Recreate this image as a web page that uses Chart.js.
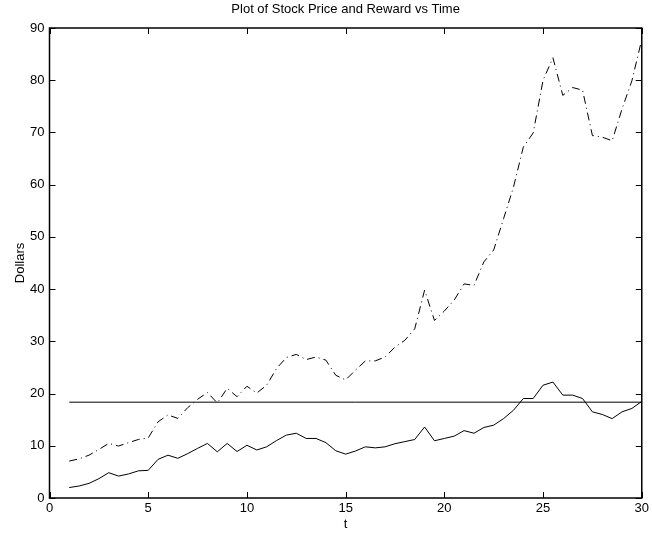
<!DOCTYPE html>
<html>
<head>
<meta charset="utf-8">
<title>Plot of Stock Price and Reward vs Time</title>
<script src="https://cdn.jsdelivr.net/npm/chart.js@4.4.1/dist/chart.umd.min.js"></script>
<style>
  html, body { margin: 0; padding: 0; background: #fff; }
  #wrap { width: 652px; height: 535px; }
</style>
</head>
<body>
<div id="wrap"><canvas id="myChart" width="652" height="535"></canvas></div>
<script>
'use strict';

let times = [1, 1.5, 2, 2.5, 3, 3.5, 4, 4.5, 5, 5.5, 6, 6.5, 7, 7.5, 8, 8.5, 9, 9.5, 10, 10.5,
  11, 11.5, 12, 12.5, 13, 13.5, 14, 14.5, 15, 15.5, 16, 16.5, 17, 17.5, 18, 18.5, 19, 19.5, 20, 20.5,
  21, 21.5, 22, 22.5, 23, 23.5, 24, 24.5, 25, 25.5, 26, 26.5, 27, 27.5, 28, 28.5, 29, 29.5, 30];

// dash-dot curve
let stockPrice = [7.07, 7.5, 8.2, 9.3, 10.45, 9.95, 10.6, 11.2, 11.5, 14.6, 15.9, 15.25, 17.3, 18.9, 20.2, 18.2, 21.0, 19.4, 21.4, 20.1,
  21.6, 24.8, 26.9, 27.5, 26.5, 27.0, 26.4, 23.5, 22.6, 24.5, 26.25, 26.25, 27.0, 28.9, 30.2, 32.4, 39.8, 34.0, 35.8, 37.9,
  41.0, 40.7, 45.2, 47.5, 53.5, 59.5, 67.2, 69.9, 80.0, 84.3, 77.1, 78.6, 78.1, 69.4, 69.1, 68.4, 74.5, 79.9, 87.8];

// solid curve
let reward = [2.0, 2.3, 2.8, 3.7, 4.85, 4.2, 4.6, 5.2, 5.3, 7.4, 8.2, 7.6, 8.5, 9.5, 10.45, 8.85, 10.45, 8.9, 10.1, 9.2,
  9.8, 11.0, 12.05, 12.4, 11.4, 11.4, 10.6, 9.05, 8.4, 9.0, 9.8, 9.6, 9.8, 10.4, 10.8, 11.2, 13.6, 10.96, 11.4, 11.85,
  12.9, 12.4, 13.5, 13.95, 15.2, 16.8, 19.05, 19.05, 21.6, 22.2, 19.7, 19.7, 19.05, 16.5, 16.0, 15.2, 16.5, 17.15, 18.5];

// flat level drawn from first to last time
let level = 18.35;

let xTicks = [0, 5, 10, 15, 20, 25, 30];
let yTicks = [0, 10, 20, 30, 40, 50, 60, 70, 80, 90];

function toPoints(xs, ys) {
  let out = [];
  for (let i = 0; i < xs.length; i++) {
    out.push({ x: xs[i], y: ys[i] });
  }
  return out;
}

let fontFamily = '"Liberation Sans", Arial, Helvetica, sans-serif';
let fontSize = 13;

// box round the plot area with short ticks pointing inward on all four sides
let boxPlugin = {
  id: 'boxPlugin',
  afterDraw(chart) {
    let ctx = chart.ctx;
    let a = chart.chartArea;
    let xs = chart.scales.x;
    let ys = chart.scales.y;
    let len = 6;
    ctx.save();
    ctx.strokeStyle = '#000';
    ctx.lineWidth = 1;
    ctx.beginPath();
    for (let i = 0; i < xTicks.length; i++) {
      let px = Math.round(xs.getPixelForValue(xTicks[i])) + 0.5;
      ctx.moveTo(px, a.bottom);
      ctx.lineTo(px, a.bottom - len);
      ctx.moveTo(px, a.top);
      ctx.lineTo(px, a.top + len);
    }
    for (let i = 0; i < yTicks.length; i++) {
      let py = Math.round(ys.getPixelForValue(yTicks[i])) + 0.5;
      ctx.moveTo(a.left, py);
      ctx.lineTo(a.left + len, py);
      ctx.moveTo(a.right, py);
      ctx.lineTo(a.right - len, py);
    }
    ctx.stroke();
    ctx.lineWidth = 1.5;
    ctx.strokeRect(a.left, a.top, a.right - a.left, a.bottom - a.top);
    ctx.restore();
  }
};

let ctx = document.getElementById('myChart').getContext('2d');
let myChart = new Chart(ctx, {
  type: 'line',
  data: {
    datasets: [
      {
        label: 'Stock Price',
        data: toPoints(times, stockPrice),
        borderColor: '#000',
        borderWidth: 1,
        borderDash: [8, 4, 1, 4],
        pointRadius: 0,
        tension: 0
      },
      {
        label: 'Reward',
        data: toPoints(times, reward),
        borderColor: '#000',
        borderWidth: 1,
        pointRadius: 0,
        tension: 0
      },
      {
        label: 'Level',
        data: [{ x: times[0], y: level }, { x: times[times.length - 1], y: level }],
        borderColor: '#000',
        borderWidth: 1,
        pointRadius: 0
      }
    ]
  },
  options: {
    responsive: false,
    animation: false,
    layout: { padding: { left: 0, right: 8, top: 0, bottom: 0 } },
    plugins: {
      legend: { display: false },
      tooltip: { enabled: false },
      title: { display: false }
    },
    scales: {
      x: {
        type: 'linear',
        position: 'bottom',
        min: 0,
        max: 30,
        afterBuildTicks: function (scale) {
          scale.ticks = xTicks.map(v => ({ value: v }));
        },
        afterFit: function (scale) { scale.height = 37; },
        grid: { display: false, drawTicks: false },
        border: { display: false },
        ticks: { color: '#000', padding: 3, maxRotation: 0, font: { family: fontFamily, size: fontSize } },
        title: { display: true, text: 't', color: '#000', padding: { top: 0, bottom: 3 }, font: { family: fontFamily, size: fontSize } }
      },
      top: {
        type: 'linear',
        position: 'top',
        min: 0,
        max: 30,
        afterFit: function (scale) { scale.height = 28; },
        grid: { display: false, drawTicks: false },
        border: { display: false },
        ticks: { display: false },
        title: { display: true, text: 'Plot of Stock Price and Reward vs Time', color: '#000', padding: { top: 2, bottom: 0 }, font: { family: fontFamily, size: fontSize } }
      },
      y: {
        type: 'linear',
        position: 'left',
        min: 0,
        max: 90,
        afterBuildTicks: function (scale) {
          scale.ticks = yTicks.map(v => ({ value: v }));
        },
        afterFit: function (scale) { scale.width = 49.5; },
        grid: { display: false, drawTicks: false },
        border: { display: false },
        ticks: { color: '#000', padding: 5, font: { family: fontFamily, size: fontSize } },
        title: { display: true, text: 'Dollars', color: '#000', padding: { top: 13, bottom: 0 }, font: { family: fontFamily, size: fontSize } }
      }
    }
  },
  plugins: [boxPlugin]
});
</script>
</body>
</html>
